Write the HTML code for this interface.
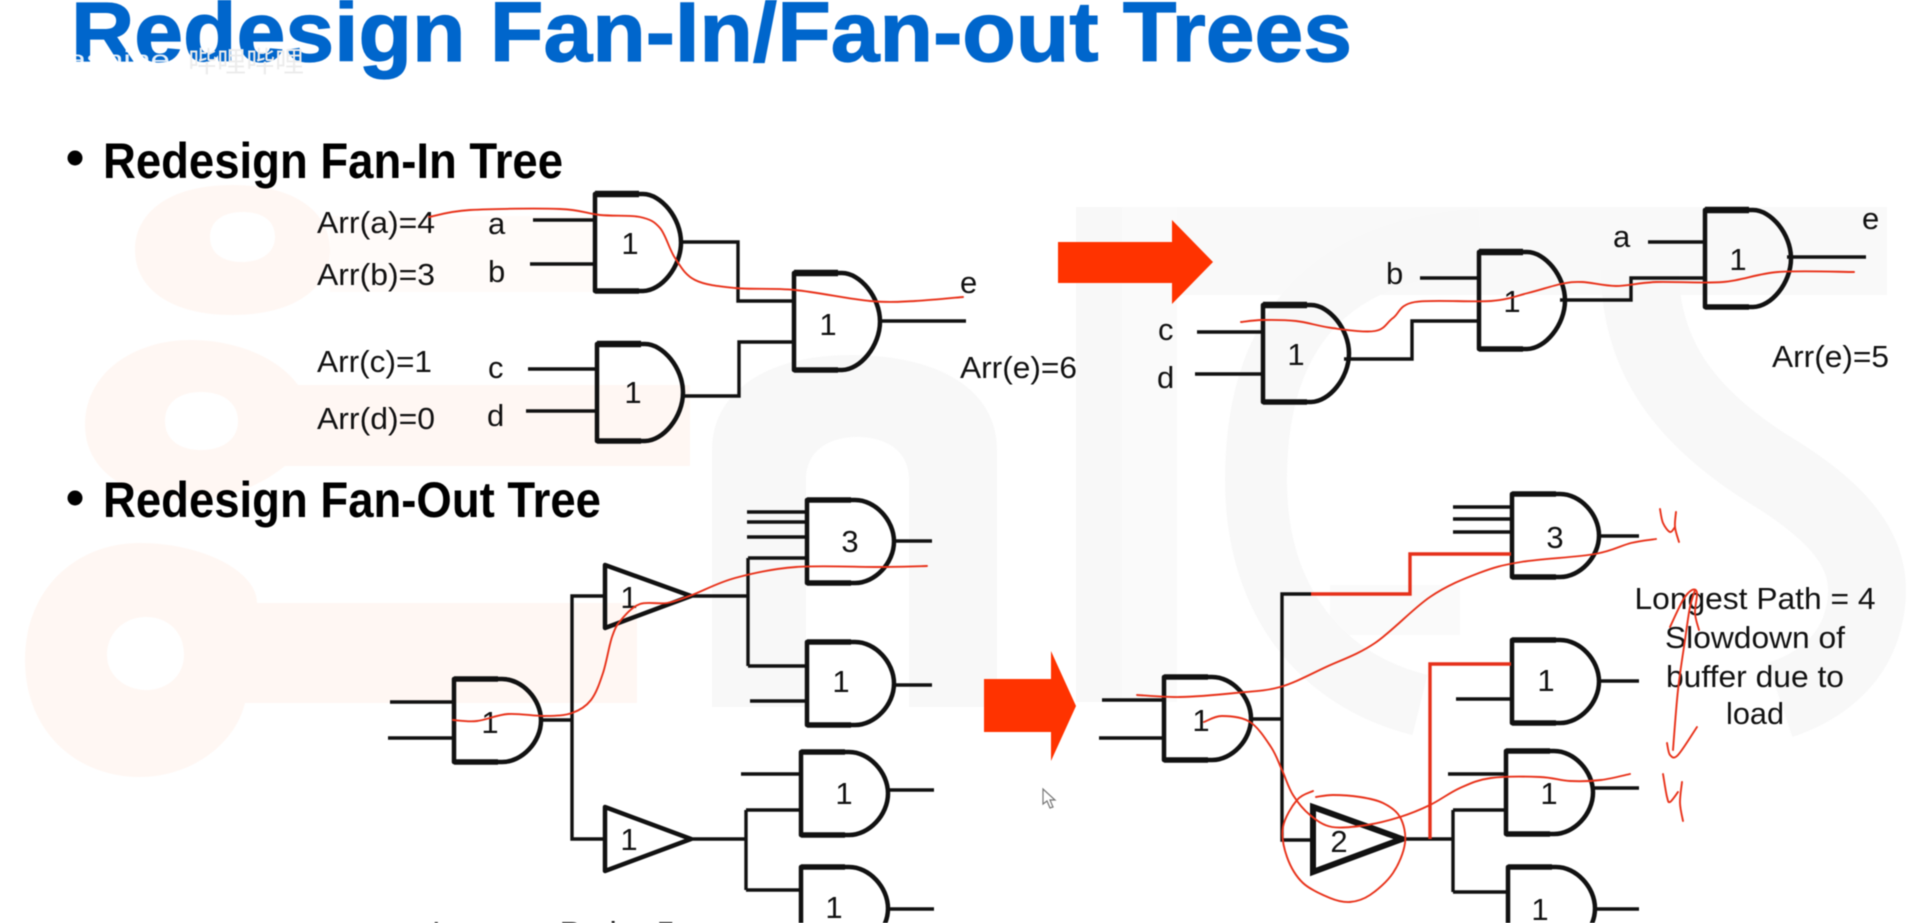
<!DOCTYPE html>
<html lang="en"><head><meta charset="utf-8"><title>Redesign Fan-In/Fan-out Trees</title>
<style>
html,body{margin:0;padding:0;background:#fff;width:1917px;height:923px;overflow:hidden}
svg{display:block;filter:blur(.45px)}
text{font-family:"Liberation Sans","Noto Sans CJK SC",sans-serif;fill:#111}
.w{fill:none;stroke:#111;stroke-width:3.4;stroke-linejoin:miter}
.r{fill:none;stroke:#e8321a;stroke-width:1.9;stroke-linejoin:round;stroke-linecap:round}
.g{fill:none;stroke:#111;stroke-width:4.5;stroke-linejoin:round}
.l{font-size:31px}
.n{font-size:31px;text-anchor:middle}
.h{font-size:50px;font-weight:bold;fill:#000}
.t{font-size:31px;text-anchor:middle}
</style></head><body>
<svg width="1917" height="923" viewBox="0 0 1917 923" xmlns="http://www.w3.org/2000/svg">
<defs>
<g id="A"><path class="g" d="M0 0H48C66 0 86 24 86 48.5C86 73 66 97 48 97H0Z"/><path d="M0 0H44" stroke="#111" stroke-width="6.5" fill="none"/><path d="M0 97H44" stroke="#111" stroke-width="5.5" fill="none"/></g>
<g id="B"><path class="g" d="M0 0H48C68 0 87 20 87 41.5C87 63 68 83 48 83H0Z"/><path d="M0 0H44" stroke="#111" stroke-width="5.5" fill="none"/><path d="M0 83H44" stroke="#111" stroke-width="5.5" fill="none"/></g>
</defs>

<!-- faint logo watermark -->
<g fill="#fff7f3">
<path fill-rule="evenodd" d="M135 250C135 212 170 185 232 185C295 185 330 212 330 250C330 288 295 315 232 315C170 315 135 288 135 250ZM210 237C210 255 225 262 242 262C262 262 275 252 275 237C275 220 262 212 242 212C225 212 210 220 210 237Z"/>
<rect x="330" y="216" width="262" height="76" fill="#fffbf9"/>
<path fill-rule="evenodd" d="M85 425C85 372 135 340 190 340C240 340 280 360 298 385H690V466H285C255 490 220 500 190 500C130 500 85 472 85 425ZM165 421C165 440 180 450 201 450C222 450 238 440 238 421C238 402 222 392 201 392C180 392 165 402 165 421Z"/>
<path fill-rule="evenodd" d="M25 660C25 590 75 543 140 543C200 543 257 570 257 603H637V703H245C235 745 190 777 140 777C75 777 25 730 25 660ZM107 655C107 675 125 690 146 690C168 690 184 675 184 655C184 632 168 617 146 617C125 617 107 632 107 655Z"/>
</g>
<g fill="#f8f8f8">
<path fill-rule="evenodd" d="M712 707V450C712 390 770 355 850 355C940 355 997 390 997 450V707H909V480C909 450 885 437 857 437C830 437 806 450 806 480V707Z"/>
<rect x="1076" y="207" width="46" height="495"/>
<rect x="1122" y="207" width="55" height="495" fill="#fafafa"/>
<rect x="1177" y="207" width="710" height="88" fill="#f9f9f9"/>
<rect x="1330" y="585" width="130" height="50" fill="#fafafa"/>
<path d="M1480 240C1320 250 1256 340 1256 480C1256 600 1320 680 1420 705" fill="none" stroke="#f8f8f8" stroke-width="62"/>
<path d="M1640 270C1640 360 1690 420 1770 470C1860 525 1880 570 1860 630C1845 670 1810 690 1780 700" fill="none" stroke="#f8f8f8" stroke-width="78"/>
</g>

<!-- title -->
<text x="71" y="61" font-size="84" font-weight="bold" style="fill:#0066cc;stroke:#0066cc;stroke-width:1.2" textLength="1281" lengthAdjust="spacingAndGlyphs">Redesign Fan-In/Fan-out Trees</text>
<text x="28" y="68" font-size="25" style="fill:#fff" opacity=".9" textLength="142" lengthAdjust="spacingAndGlyphs">enashine</text>
<text x="188" y="72" font-size="29" style="fill:#ececec" textLength="116" lengthAdjust="spacingAndGlyphs">哔哩哔哩</text>

<!-- headings -->
<circle cx="75" cy="158" r="7.5" fill="#000"/>
<text class="h" x="103" y="178" textLength="460" lengthAdjust="spacingAndGlyphs">Redesign Fan-In Tree</text>
<circle cx="75" cy="498" r="7.5" fill="#000"/>
<text class="h" x="103" y="517" textLength="498" lengthAdjust="spacingAndGlyphs">Redesign Fan-Out Tree</text>

<!-- top-left labels -->
<text class="l" x="317" y="233" textLength="118" lengthAdjust="spacingAndGlyphs">Arr(a)=4</text>
<text class="l" x="317" y="285" textLength="118" lengthAdjust="spacingAndGlyphs">Arr(b)=3</text>
<text class="l" x="317" y="372" textLength="115" lengthAdjust="spacingAndGlyphs">Arr(c)=1</text>
<text class="l" x="317" y="429" textLength="118" lengthAdjust="spacingAndGlyphs">Arr(d)=0</text>
<text class="l" x="488" y="234">a</text>
<text class="l" x="488" y="282">b</text>
<text class="l" x="488" y="378">c</text>
<text class="l" x="487" y="426">d</text>
<text class="l" x="960" y="293">e</text>
<text class="l" x="960" y="378" textLength="117" lengthAdjust="spacingAndGlyphs">Arr(e)=6</text>

<!-- top-left circuit -->
<use href="#A" x="595" y="194"/><use href="#A" x="794" y="273"/><use href="#A" x="597" y="344"/>
<path class="w" d="M533 220H595M530 264H595M681 242H738V301H794M528 369H597M526 411H597M683 396H739V342H794M882 321H966"/>
<text class="n" x="630" y="254">1</text><text class="n" x="828" y="335">1</text><text class="n" x="633" y="403">1</text>
<polyline class="r" points="429,217 470,210 560,209 600,215 640,217 660,228 675,258 695,280 735,288 795,290 870,301 915,301 963,297"/>

<!-- arrow 1 -->
<path fill="#ff3300" d="M1058 242H1172V220L1213 262L1172 304V283H1058Z"/>

<!-- top-right circuit -->
<use href="#A" x="1263" y="305"/><use href="#A" x="1479" y="252"/><use href="#A" x="1705" y="210"/>
<path class="w" d="M1197 332H1263M1195 374H1263M1344 359H1412V321H1479M1420 278H1479M1560 300H1631V278H1705M1648 242H1705M1787 257H1866"/>
<text class="l" x="1158" y="340">c</text><text class="l" x="1157" y="388">d</text>
<text class="l" x="1386" y="284">b</text><text class="l" x="1613" y="247">a</text><text class="l" x="1862" y="229">e</text>
<text class="l" x="1772" y="367" textLength="117" lengthAdjust="spacingAndGlyphs">Arr(e)=5</text>
<text class="n" x="1296" y="365">1</text><text class="n" x="1512" y="312">1</text><text class="n" x="1738" y="270">1</text>
<polyline class="r" points="1241,322 1262,320 1296,321 1332,328 1375,331 1393,318 1415,302 1491,301 1528,293 1561,284 1582,282 1616,286 1656,282 1723,282 1778,272 1854,272"/>

<!-- bottom-left circuit -->
<use href="#B" x="454" y="679"/><use href="#B" x="807" y="500"/><use href="#B" x="807" y="642"/><use href="#B" x="801" y="752"/><use href="#B" x="801" y="867"/>
<path class="g" d="M605 565L691 596L605 628Z"/>
<path class="g" d="M605 807L691 839L605 871Z"/>
<path class="w" d="M390 702H454M388 738H454M542 720H572M605 596H572V839H605M691 596H748M748 558V666M748 558H807M748 666H807M747 512H807M747 522H807M747 537H807M894 541H932M750 701H807M894 685H932M741 774H801M691 839H746M746 810V890M746 810H801M746 890H801M888 790H934M888 909H934"/>
<text class="n" x="490" y="733">1</text><text class="n" x="629" y="608">1</text><text class="n" x="629" y="850">1</text>
<text class="n" x="850" y="552">3</text><text class="n" x="841" y="692">1</text><text class="n" x="844" y="804">1</text><text class="n" x="834" y="918">1</text>
<text class="l" x="432" y="943" textLength="243" lengthAdjust="spacingAndGlyphs">Longest Path= 5</text>
<polyline class="r" points="453,720 477,721 508,714 545,716 572,713 591,700 603,673 612,637 621,620 640,604 667,603 692,595 735,578 796,567 882,567 927,566"/>

<!-- arrow 2 -->
<path fill="#ff3300" d="M984 679H1051V651L1076 706L1051 761V732H984Z"/>
<path fill="#fff" stroke="#777" stroke-width="1.2" d="M1043 789V804L1047 801L1050 808L1053 807L1050 800L1055 800Z"/>

<!-- bottom-right circuit -->
<use href="#B" x="1164" y="677"/><use href="#B" x="1512" y="494"/><use href="#B" x="1512" y="640"/><use href="#B" x="1506" y="751"/><use href="#B" x="1508" y="867"/>
<path d="M1313 807L1402 839L1313 872Z" fill="none" stroke="#111" stroke-width="6" stroke-linejoin="miter"/>
<path class="w" d="M1102 700H1164M1099 738H1164M1252 719H1282M1311 594H1282V840H1313M1402 839H1453M1453 810V892M1453 810H1506M1453 892H1508M1453 507H1512M1453 519H1512M1453 532H1512M1600 536H1639M1456 699H1512M1600 681H1639M1448 774H1506M1593 788H1639M1596 909H1639"/>
<path d="M1311 594H1410V554H1511M1430 839V664H1511" fill="none" stroke="#e5301a" stroke-width="3.4"/>
<text class="n" x="1201" y="731">1</text><text class="n" x="1339" y="852">2</text>
<text class="n" x="1555" y="548">3</text><text class="n" x="1546" y="691">1</text><text class="n" x="1549" y="804">1</text><text class="n" x="1540" y="920">1</text>
<text class="t" x="1755" y="609" textLength="241" lengthAdjust="spacingAndGlyphs">Longest Path = 4</text>
<text class="t" x="1755" y="648" textLength="180" lengthAdjust="spacingAndGlyphs">Slowdown of</text>
<text class="t" x="1755" y="687" textLength="178" lengthAdjust="spacingAndGlyphs">buffer due to</text>
<text class="t" x="1755" y="724" textLength="58" lengthAdjust="spacingAndGlyphs">load</text>
<polyline class="r" points="1137,695 1180,697 1235,693 1280,687 1326,667 1375,643 1430,597 1479,573 1521,562 1595,554 1631,543 1656,539"/>
<polyline class="r" points="1204,722 1222,716 1250,722 1271,747 1282,770 1293,795 1310,815 1332,827 1367,825 1400,817 1430,805 1460,788 1491,778 1540,777 1570,781 1601,780 1630,774"/>
<polyline class="r" points="1313,791 1297,800 1283,827 1287,857 1303,883 1330,898 1350,902 1370,895 1393,873 1405,843 1400,817 1383,803 1360,797 1333,795 1316,797"/>
<polyline class="r" points="1660,509 1663,523 1670,532 1675,527"/>
<polyline class="r" points="1676,512 1675,527 1679,542"/>
<polyline class="r" points="1663,774 1667,797 1670,802 1678,792"/>
<polyline class="r" points="1682,782 1680,803 1683,821"/>
<polyline class="r" points="1670,627 1683,600 1692,590 1697,593 1695,613 1699,630"/>
<polyline class="r" points="1695,590 1690,607 1685,640 1678,690 1673,750"/>
<polyline class="r" points="1667,743 1670,755 1678,755 1697,727"/>
</svg>
<script>
document.querySelectorAll('polyline.r').forEach(function(p){
  var a=p.getAttribute('points').trim().split(/\s+/).map(function(s){return s.split(',').map(Number)});
  if(a.length<3)return;
  var d='M'+a[0][0]+' '+a[0][1];
  for(var i=0;i<a.length-1;i++){
    var p0=a[i-1]||a[i],p1=a[i],p2=a[i+1],p3=a[i+2]||p2;
    d+='C'+(p1[0]+(p2[0]-p0[0])/6).toFixed(1)+' '+(p1[1]+(p2[1]-p0[1])/6).toFixed(1)+' '+(p2[0]-(p3[0]-p1[0])/6).toFixed(1)+' '+(p2[1]-(p3[1]-p1[1])/6).toFixed(1)+' '+p2[0]+' '+p2[1];
  }
  var n=document.createElementNS('http://www.w3.org/2000/svg','path');
  n.setAttribute('class','r');n.setAttribute('d',d);p.parentNode.replaceChild(n,p);
});
</script>
</body></html>
